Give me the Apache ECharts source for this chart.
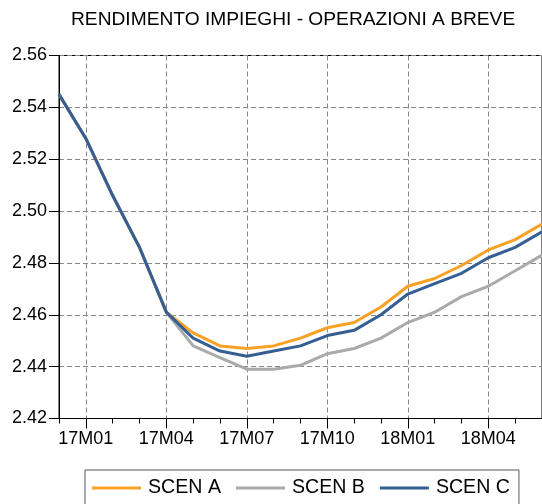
<!DOCTYPE html>
<html>
<head>
<meta charset="utf-8">
<script src="https://cdn.jsdelivr.net/npm/echarts@6/dist/echarts.min.js"></script>
<style>html,body{margin:0;padding:0;background:#fff}#c{width:542px;height:504px}</style>
</head>
<body>
<div id="c"></div>
<script>
const categories = ['16M12','17M01','17M02','17M03','17M04','17M05','17M06','17M07','17M08','17M09','17M10','17M11','17M12','18M01','18M02','18M03','18M04','18M05','18M06'];
const scenA = [2.545, 2.528, 2.506, 2.486, 2.461, 2.453, 2.448, 2.447, 2.448, 2.451, 2.455, 2.457, 2.463, 2.471, 2.474, 2.479, 2.485, 2.489, 2.495];
const scenB = [2.545, 2.528, 2.506, 2.486, 2.461, 2.448, 2.4435, 2.439, 2.439, 2.4405, 2.445, 2.447, 2.451, 2.457, 2.461, 2.467, 2.471, 2.477, 2.483];
const scenC = [2.545, 2.528, 2.506, 2.486, 2.461, 2.451, 2.446, 2.444, 2.446, 2.448, 2.452, 2.454, 2.460, 2.468, 2.472, 2.476, 2.482, 2.486, 2.492];
const seriesNames = ['SCEN A', 'SCEN B', 'SCEN C'];
const yTicks = [2.42, 2.44, 2.46, 2.48, 2.50, 2.52, 2.54, 2.56];

const FONT = '"Liberation Sans", Arial, sans-serif';
const major = (i) => i % 3 === 1;

const chart = echarts.init(document.getElementById('c'), null, {renderer: 'canvas'});
chart.setOption({
  animation: false,
  backgroundColor: '#fff',
  title: {
    text: 'RENDIMENTO IMPIEGHI - OPERAZIONI A BREVE',
    left: 71, top: 10, padding: 0,
    textStyle: {fontFamily: FONT, fontSize: 19.2, fontWeight: 'normal', color: '#000'}
  },
  grid: {left: 59, right: 0, top: 55.5, bottom: 85.5, show: true, borderColor: '#000', borderWidth: 1, containLabel: false},
  legend: {
    left: 85, top: 470,
    padding: [8, 9, 20, 7],
    borderColor: '#555', borderWidth: 1,
    icon: 'rect',
    itemWidth: 49, itemHeight: 3, itemGap: 15,
    textStyle: {fontFamily: FONT, fontSize: 19.6, color: '#000', padding: [0, 0, 0, 2]},
    data: seriesNames
  },
  xAxis: [{
    type: 'category', data: categories, boundaryGap: false, position: 'bottom',
    axisLine: {lineStyle: {color: '#000', width: 1}},
    axisTick: {show: true, length: 10, interval: (i) => major(i), lineStyle: {color: '#000'}},
    axisLabel: {interval: (i) => major(i), margin: 12, fontFamily: FONT, fontSize: 18, color: '#000'},
    splitLine: {show: true, interval: (i) => major(i), lineStyle: {color: '#888', type: [5, 3], width: 1}}
  }, {
    type: 'category', data: categories, boundaryGap: false, position: 'bottom',
    axisLine: {show: false},
    axisTick: {show: true, length: 5, interval: 0, lineStyle: {color: '#000'}},
    axisLabel: {show: false},
    splitLine: {show: false}
  }],
  yAxis: {
    type: 'value', min: yTicks[0], max: yTicks[yTicks.length - 1], interval: 0.02,
    axisLine: {show: true, lineStyle: {color: '#000'}},
    axisTick: {show: true, length: 10, lineStyle: {color: '#000'}},
    axisLabel: {margin: 12, fontFamily: FONT, fontSize: 18, color: '#000', formatter: (v) => v.toFixed(2)},
    splitLine: {show: true, lineStyle: {color: '#888', type: [5, 3], width: 1}}
  },
  series: [
    {name: seriesNames[0], type: 'line', data: scenA, symbol: 'none', lineStyle: {color: '#F9A124', width: 3}, itemStyle: {color: '#F9A124'}},
    {name: seriesNames[1], type: 'line', data: scenB, symbol: 'none', lineStyle: {color: '#AAAAAA', width: 3}, itemStyle: {color: '#AAAAAA'}},
    {name: seriesNames[2], type: 'line', data: scenC, symbol: 'none', lineStyle: {color: '#355F93', width: 3}, itemStyle: {color: '#355F93'}}
  ]
});
</script>
</body>
</html>
